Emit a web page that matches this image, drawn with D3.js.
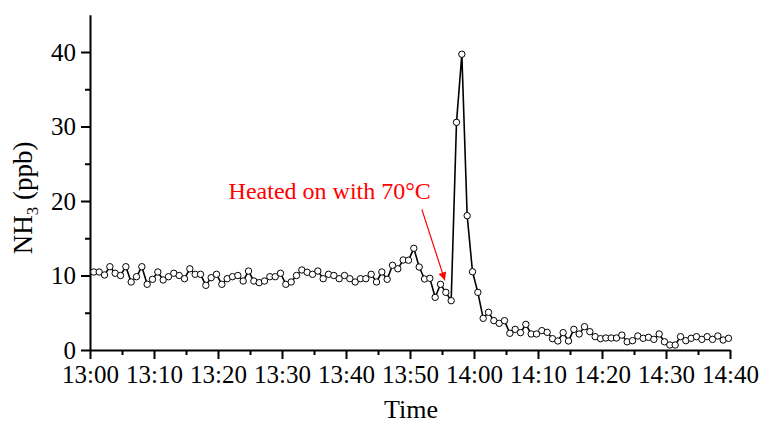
<!DOCTYPE html>
<html><head><meta charset="utf-8">
<script src="https://cdn.jsdelivr.net/npm/d3@7"></script>
<style>body{margin:0;background:#fff}svg{display:block}</style></head>
<body><svg id="c" width="761" height="423"></svg>
<script>
// ---- data ----
const startTime = "13:00:36";
const stepSeconds = 50;
const nh3 = [
10.47,10.47,10.07,11.18,10.3,10.0,11.18,9.13,9.84,11.18,
8.82,9.49,10.47,9.4,9.84,10.3,10.0,9.57,10.9,10.16,
10.16,8.68,9.71,10.16,8.82,9.57,9.84,10.0,9.26,10.6,
9.26,9.04,9.26,9.84,9.84,10.3,8.82,9.13,10.0,10.74,
10.43,10.16,10.6,9.57,10.16,10.0,9.57,10.0,9.57,9.13,
9.57,9.57,10.16,9.13,10.47,9.49,11.37,10.9,12.08,12.05,
13.65,11.14,9.53,9.62,7.07,8.82,7.74,6.62,30.56,39.7,
18.03,10.5,7.74,4.25,5.06,3.94,3.58,3.94,2.24,2.77,
2.33,3.44,2.15,2.15,2.6,2.37,1.52,1.21,2.33,1.21,
2.77,2.15,3.13,2.46,1.79,1.52,1.61,1.61,1.61,2.0,
1.1,1.25,1.88,1.57,1.7,1.43,2.15,1.1,0.67,0.67,
1.79,1.25,1.57,1.79,1.43,1.79,1.43,1.88,1.34,1.57];
const xTickLabels = ["13:00","13:10","13:20","13:30","13:40","13:50","14:00","14:10","14:20","14:30","14:40"];
const xMinorLabels = ["13:05","13:15","13:25","13:35","13:45","13:55","14:05","14:15","14:25","14:35"];
const yTicks = [0,10,20,30,40];
const yMinor = [5,15,25,35];
const yMax = 45;
const annotationText = "Heated on with 70°C";
const annotationIndex = 66;
const xTitle = "Time";

// ---- chart ----
const svg = d3.select("#c");
const parse = d3.timeParse("%H:%M:%S");
const parseHM = d3.timeParse("%H:%M");
const t0 = parse(startTime);
const data = nh3.map((v,i)=>({t:new Date(t0.getTime()+i*stepSeconds*1000), v}));
const x = d3.scaleTime().domain([parseHM(xTickLabels[0]), parseHM(xTickLabels[xTickLabels.length-1])]).range([90,730]);
const y = d3.scaleLinear().domain([0,yMax]).range([350,14.75]);
const font = "'Liberation Serif','Times New Roman',serif";

// minor ticks
svg.append("g").attr("transform","translate(0,350)")
  .call(d3.axisBottom(x).tickValues(xMinorLabels.map(parseHM)).tickSize(5).tickFormat("").tickSizeOuter(0))
  .call(g=>g.select(".domain").remove())
  .call(g=>g.selectAll("line").attr("stroke","#000").attr("stroke-width",2));
svg.append("g").attr("transform","translate(90,0)")
  .call(d3.axisLeft(y).tickValues(yMinor).tickSize(5).tickFormat("").tickSizeOuter(0))
  .call(g=>g.select(".domain").remove())
  .call(g=>g.selectAll("line").attr("stroke","#000").attr("stroke-width",2));

// major axes
const xa = svg.append("g").attr("transform","translate(0,350)")
  .call(d3.axisBottom(x).tickValues(xTickLabels.map(parseHM)).tickFormat(d3.timeFormat("%H:%M")).tickSize(9).tickSizeOuter(0).tickPadding(6));
xa.select(".domain").attr("stroke","#000").attr("stroke-width",2);
xa.selectAll("line").attr("stroke","#000").attr("stroke-width",2);
xa.selectAll("text").attr("font-family",font).attr("font-size",25).attr("fill","#000");

const ya = svg.append("g").attr("transform","translate(90,0)")
  .call(d3.axisLeft(y).tickValues(yTicks).tickSize(9).tickSizeOuter(0).tickPadding(5));
ya.select(".domain").attr("stroke","#000").attr("stroke-width",2);
ya.selectAll("line").attr("stroke","#000").attr("stroke-width",2);
ya.selectAll("text").attr("font-family",font).attr("font-size",25).attr("fill","#000");

// line + markers
svg.append("path").datum(data)
  .attr("d", d3.line().x(d=>x(d.t)).y(d=>y(d.v)))
  .attr("fill","none").attr("stroke","#000").attr("stroke-width",1.6);
svg.append("g").selectAll("circle").data(data).join("circle")
  .attr("cx",d=>x(d.t)).attr("cy",d=>y(d.v)).attr("r",3.2)
  .attr("fill","#fff").attr("stroke","#000").attr("stroke-width",1);

// titles
svg.append("text").attr("x",411).attr("y",418).attr("text-anchor","middle")
  .attr("font-family",font).attr("font-size",26).text(xTitle);
const yt = svg.append("text").attr("transform","translate(32,198) rotate(-90)")
  .attr("text-anchor","middle").attr("font-family",font).attr("font-size",27);
yt.append("tspan").text("NH");
yt.append("tspan").attr("font-size",17).attr("dy",6).text("3");
yt.append("tspan").attr("dy",-6).text(" (ppb)");

// annotation
const ap = data[annotationIndex];
const tipX = x(ap.t)-1, tipY = y(ap.v)-12;
const startX = tipX-23, startY = tipY-71;
svg.append("defs").append("marker").attr("id","ah").attr("viewBox","0 0 10 10")
  .attr("refX",10).attr("refY",5).attr("markerWidth",10).attr("markerHeight",8)
  .attr("markerUnits","userSpaceOnUse").attr("orient","auto")
  .append("path").attr("d","M0,0L10,5L0,10z").attr("fill","#ff0000");
svg.append("line").attr("x1",startX).attr("y1",startY).attr("x2",tipX).attr("y2",tipY)
  .attr("stroke","#ff0000").attr("stroke-width",1.2).attr("marker-end","url(#ah)");
svg.append("text").attr("x",startX+9).attr("y",startY-10).attr("text-anchor","end")
  .attr("font-family",font).attr("font-size",24).attr("fill","#ff0000").text(annotationText);
</script></body></html>
